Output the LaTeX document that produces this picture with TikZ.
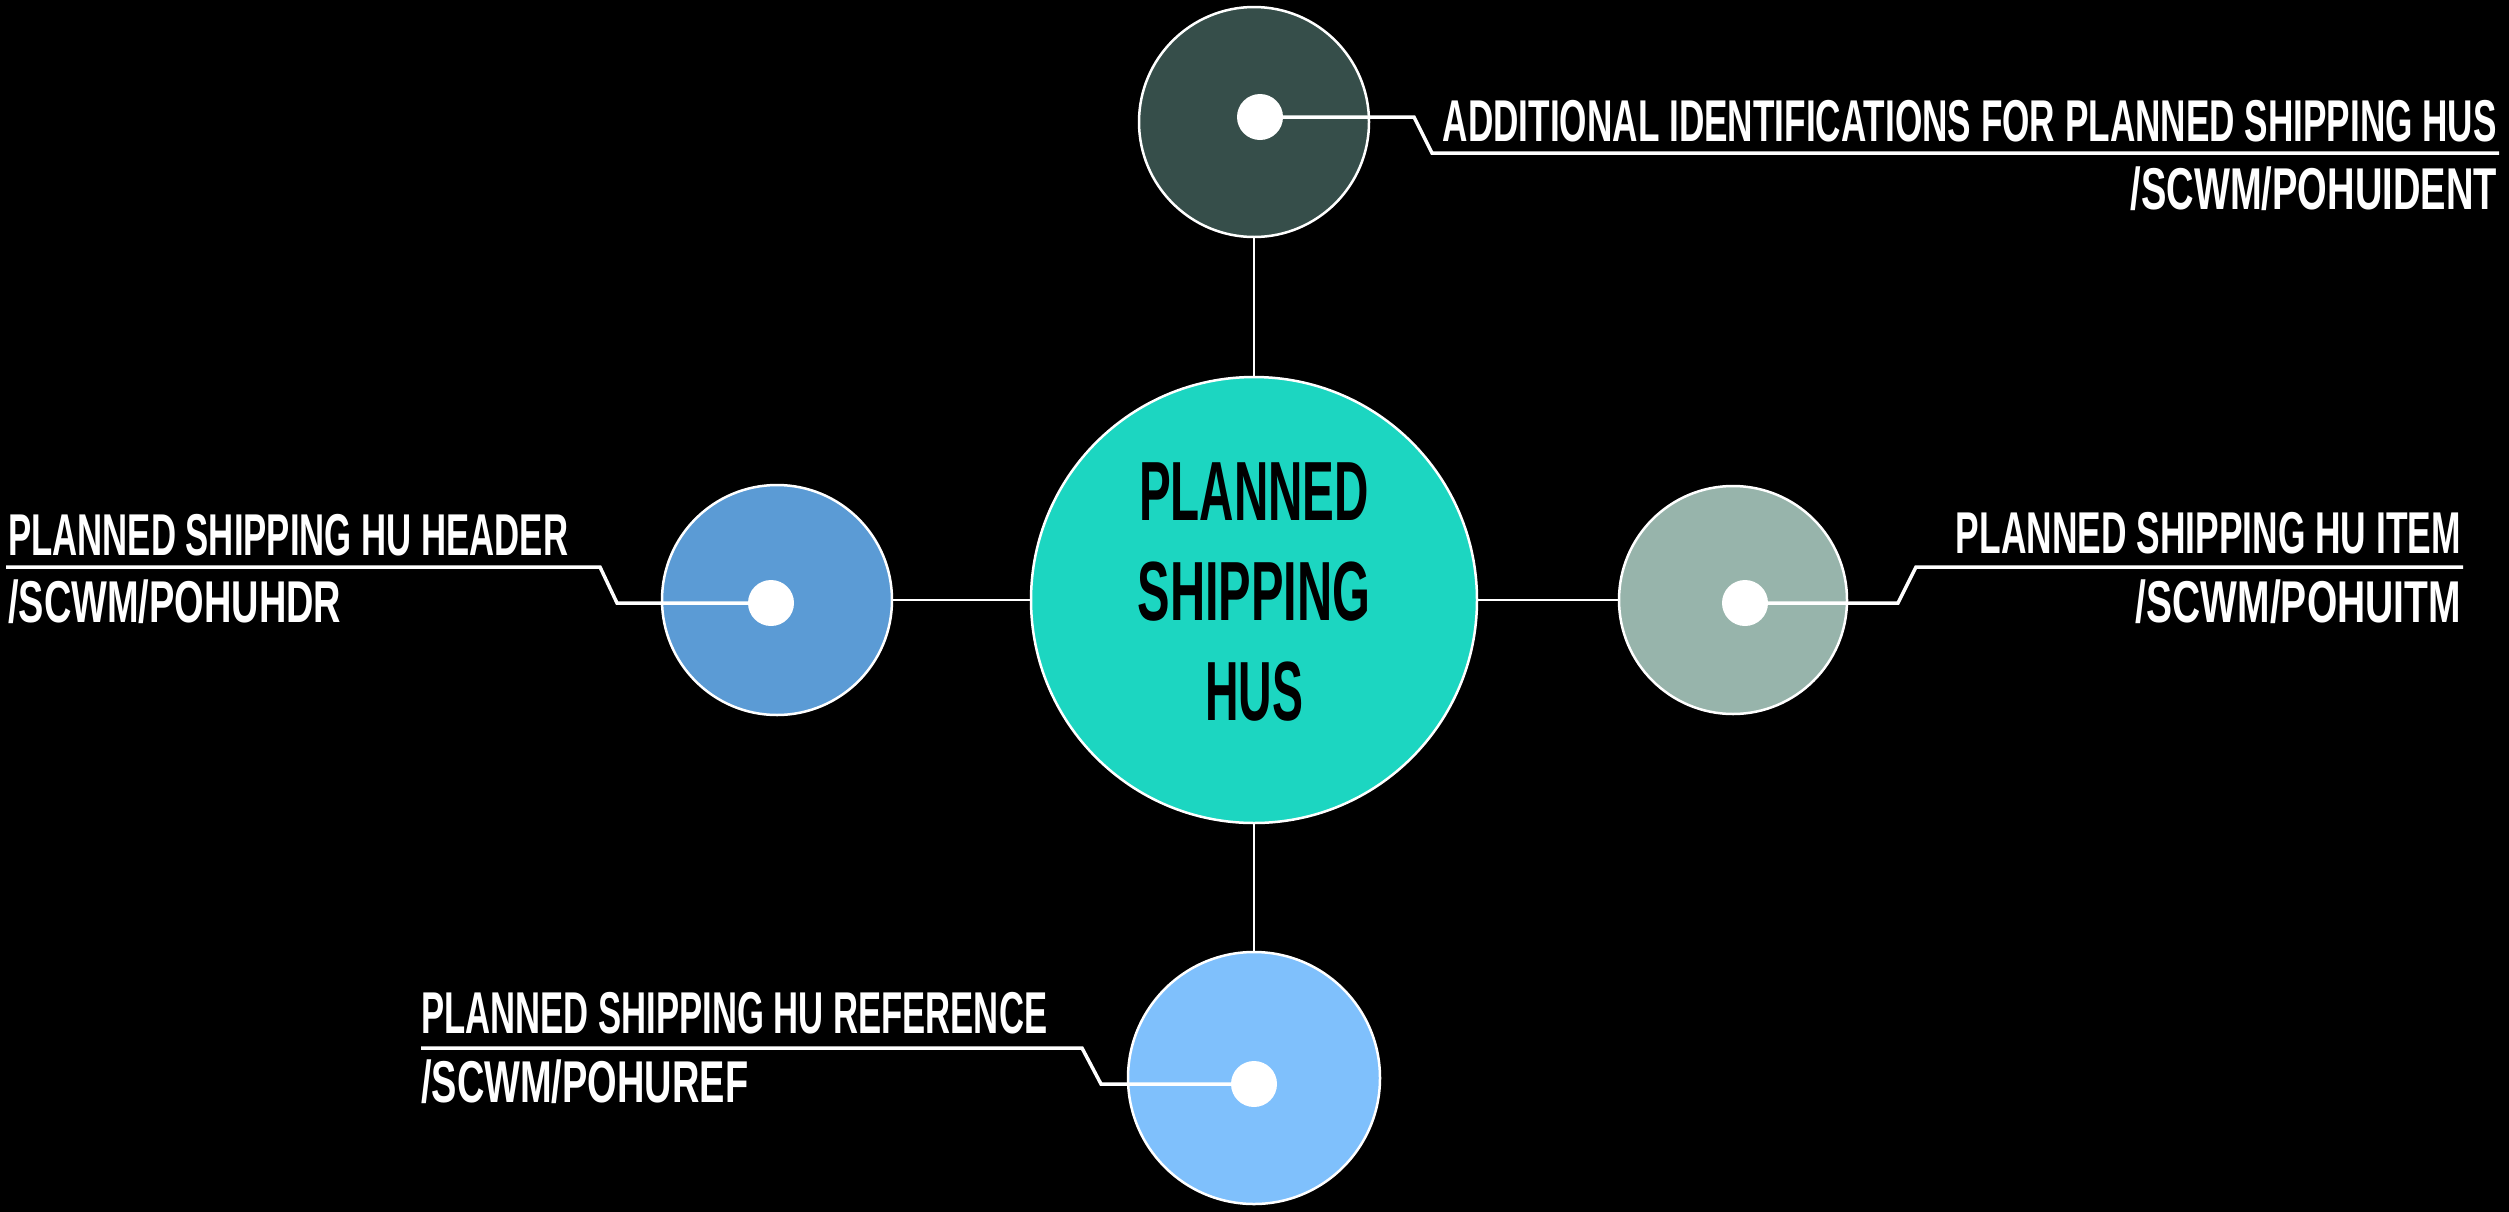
\documentclass[tikz,border=0pt]{standalone}
\usepackage{fontspec}
\usepackage{graphicx}
\newfontfamily\lblfont{Liberation Sans}
\definecolor{hubcol}{HTML}{1CD6C1}
\definecolor{topcol}{HTML}{364E4A}
\definecolor{leftcol}{HTML}{5B9BD5}
\definecolor{rightcol}{HTML}{97B4AB}
\definecolor{botcol}{HTML}{7FC0FC}
\newcommand{\sq}[2]{\resizebox{#1pt}{\height}{#2}}
\tikzset{
  bubble/.style={circle, draw=white, line width=2.5pt, inner sep=0pt},
  whitedot/.style={circle, fill=white, inner sep=0pt, minimum size=46pt},
  leader/.style={draw=white, line width=3.5pt},
  link/.style={draw=white, line width=2pt},
  lbl/.style={text=white, inner sep=0pt, font=\lblfont\bfseries\fontsize{59}{59}\selectfont},
}
\begin{document}
\begin{tikzpicture}[x=1pt,y=-1pt]
\useasboundingbox (0,0) rectangle (2509,1211);
\fill[black] (-10,-10) rectangle (2519,1221);

% bubbles
\node[bubble, fill=hubcol, minimum size=446pt] (hub) at (1254,600) {};
\node[bubble, fill=topcol, minimum size=230pt] (top) at (1254,122) {};
\node[bubble, fill=leftcol, minimum size=230pt] (left) at (777,600) {};
\node[bubble, fill=rightcol, minimum size=228pt] (right) at (1733,600) {};
\node[bubble, fill=botcol, minimum size=252pt] (bot) at (1254,1078) {};

% links
\draw[link] (top) -- (hub);
\draw[link] (left) -- (hub);
\draw[link] (hub) -- (right);
\draw[link] (hub) -- (bot);

% hub text
\node[align=center, text=black, inner sep=0pt,
      font=\lblfont\bfseries\fontsize{84}{100}\selectfont] (hubtext) at (1254,592.5)
  {\sq{230}{PLANNED}\\\sq{233}{SHIPPING}\\\sq{98}{HUS}};

% dots positions
\coordinate (tdc) at (1260,117);
\coordinate (ldc) at (771,603);
\coordinate (rdc) at (1745,603);
\coordinate (bdc) at (1254,1084);

% leader knees
\coordinate (tk1) at (1414,117);
\coordinate (tk2) at (1432,153);
\coordinate (tend) at (2499,153);
\coordinate (lk1) at (617,603);
\coordinate (lk2) at (600,567);
\coordinate (lend) at (6,567);
\coordinate (rk1) at (1898,603);
\coordinate (rk2) at (1916,567);
\coordinate (rend) at (2463,567);
\coordinate (bk1) at (1101,1084);
\coordinate (bk2) at (1082,1048);
\coordinate (bend) at (421,1048);

\draw[leader] (tdc) -- (tk1) -- (tk2) -- (tend);
\draw[leader] (ldc) -- (lk1) -- (lk2) -- (lend);
\draw[leader] (rdc) -- (rk1) -- (rk2) -- (rend);
\draw[leader] (bdc) -- (bk1) -- (bk2) -- (bend);

\node[whitedot] (tdot) at (tdc) {};
\node[whitedot] (ldot) at (ldc) {};
\node[whitedot] (rdot) at (rdc) {};
\node[whitedot] (bdot) at (bdc) {};

% labels
\node[lbl, anchor=base east] (tl1) at (2497,141) {\sq{1054}{ADDITIONAL IDENTIFICATIONS FOR PLANNED SHIPPING HUS}};
\node[lbl, anchor=base east] (tl2) at (2497,209) {\sq{366}{/SCWM/POHUIDENT}};
\node[lbl, anchor=base west] (ll1) at (8,555) {\sq{560}{PLANNED SHIPPING HU HEADER}};
\node[lbl, anchor=base west] (ll2) at (8,622) {\sq{333}{/SCWM/POHUHDR}};
\node[lbl, anchor=base east] (rl1) at (2461,553) {\sq{505}{PLANNED SHIPPING HU ITEM}};
\node[lbl, anchor=base east] (rl2) at (2461,622) {\sq{325}{/SCWM/POHUITM}};
\node[lbl, anchor=base west] (bl1) at (421,1033) {\sq{626}{PLANNED SHIPPING HU REFERENCE}};
\node[lbl, anchor=base west] (bl2) at (421,1102) {\sq{327}{/SCWM/POHUREF}};
\end{tikzpicture}
\end{document}
